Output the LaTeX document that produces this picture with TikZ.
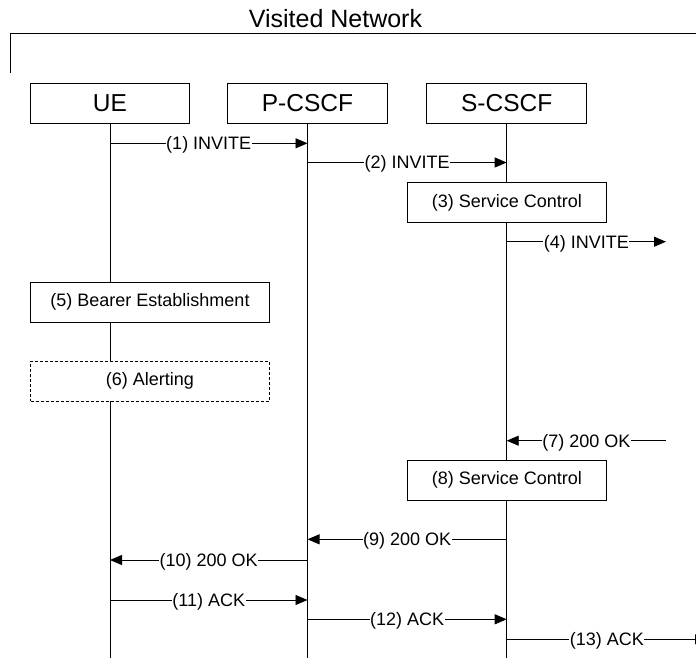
\documentclass[tikz,border=0pt]{standalone}
\usepackage{fontspec}
\setmainfont{Liberation Sans}
\usetikzlibrary{arrows.meta}
\begin{document}
\begin{tikzpicture}[x=1pt,y=-1pt,
  ent/.style={draw,line width=1pt,fill=white,minimum width=159.5pt,minimum height=40pt,inner sep=0pt,font=\fontsize{24.5}{29}\selectfont},
  proc/.style={draw,line width=1pt,fill=white,minimum height=39.5pt,inner sep=0pt,font=\fontsize{18}{22}\selectfont},
  life/.style={line width=0.9pt},
  msg/.style={line width=0.9pt,-{Triangle[length=12pt,width=10pt]}},
  lbl/.style={fill=white,inner xsep=0.5pt,inner ysep=1pt,font=\fontsize{18}{22}\selectfont,text height=12.9pt,text depth=0pt}
]
\useasboundingbox (0,0) rectangle (696,662);
\clip (0,0) rectangle (696,662);

% title and bracket
\node[font=\fontsize{25}{30}\selectfont,text height=17.9pt,text depth=0pt,inner sep=0pt] (title) at (335.5,19) {Visited Network};
\coordinate (brTop) at (10.7,73);
\coordinate (brR) at (700,33.3);
\draw[line width=1pt] (brTop) |- (brR);

% entities
\node[ent] (ue) at (110,103) {UE};
\node[ent] (pc) at (307.5,103) {P-CSCF};
\node[ent] (sc) at (506.7,103) {S-CSCF};

% lifelines
\coordinate (bottom) at (0,658.3);
\draw[life] (ue.south) -- (ue.south |- bottom);
\draw[life] (pc.south) -- (pc.south |- bottom);
\draw[life] (sc.south) -- (sc.south |- bottom);

% process boxes
\node[proc,minimum width=199pt] (p3) at (506.8,202.5) {(3) Service Control};
\node[proc,minimum width=238.6pt,minimum height=40pt] (p5) at (150,302) {(5) Bearer Establishment};
\node[proc,minimum width=238.6pt,minimum height=40pt,dash pattern=on 3pt off 2pt] (p6) at (150,381) {(6) Alerting};
\node[proc,minimum width=199pt] (p8) at (506.9,480.3) {(8) Service Control};

% message levels
\coordinate (y1) at (0,143.3);
\coordinate (y2) at (0,162.5);
\coordinate (ext4) at (666,241.7);
\coordinate (ext7) at (666,440.7);
\coordinate (y9) at (0,539.3);
\coordinate (y10) at (0,560);
\coordinate (y11) at (0,600);
\coordinate (y12) at (0,619.3);
\coordinate (ext13) at (707,639.3);

\draw[msg] (ue |- y1) -- node[lbl]{(1) INVITE} (pc |- y1);
\draw[msg] (pc |- y2) -- node[lbl]{(2) INVITE} (sc |- y2);
\draw[msg] (sc |- ext4) -- node[lbl]{(4) INVITE} (ext4);
\draw[msg] (ext7) -- node[lbl]{(7) 200 OK} (sc |- ext7);
\draw[msg] (sc |- y9) -- node[lbl]{(9) 200 OK} (pc |- y9);
\draw[msg] (pc |- y10) -- node[lbl]{(10) 200 OK} (ue |- y10);
\draw[msg] (ue |- y11) -- node[lbl]{(11) ACK} (pc |- y11);
\draw[msg] (pc |- y12) -- node[lbl]{(12) ACK} (sc |- y12);
\draw[msg] (sc |- ext13) -- node[lbl]{(13) ACK} (ext13);
\end{tikzpicture}
\end{document}
